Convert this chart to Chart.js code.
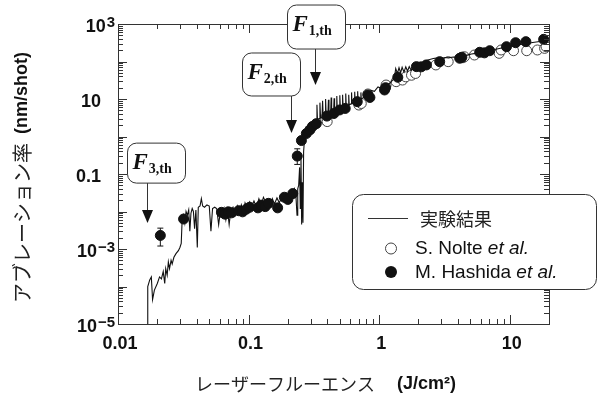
<!DOCTYPE html>
<html>
<head>
<meta charset="utf-8">
<title>アブレーション率</title>
<script src="https://cdn.jsdelivr.net/npm/chart.js"></script>
<style>
  body { margin: 0; background: #fff; }
</style>
</head>
<body>
<canvas id="ablationChart" width="598" height="403"></canvas>
<script>
// tick labels
var xTickValues = [0.01, 0.1, 1, 10];
var xTickLabels = ['0.01', '0.1', '1', '10'];
var yTickValues = [1e3, 10, 0.1, 1e-3, 1e-5];
var yTickBase = ['10', '10', '0.1', '10', '10'];
var yTickExp = ['3', '', '', '\u22123', '\u22125'];

// 実験結果 (measured curve)
var expFluence = [0.0169, 0.0169, 0.0175, 0.0180, 0.0184, 0.0190, 0.0200, 0.0208, 0.0215, 0.0222,
  0.0228, 0.0232, 0.0238, 0.0243, 0.0248, 0.0255, 0.0260, 0.0268, 0.0278, 0.0290,
  0.0298, 0.0305, 0.0310, 0.0318, 0.0325, 0.0332, 0.0340, 0.0348, 0.0355, 0.0362,
  0.0370, 0.0378, 0.0386, 0.0395, 0.0405, 0.0412, 0.0425, 0.0435, 0.0445, 0.0460,
  0.0480, 0.0500, 0.0515, 0.0530, 0.0550, 0.0570, 0.0590, 0.0610, 0.0630, 0.0650,
  0.0670, 0.0690, 0.0710, 0.0730, 0.0760, 0.0790, 0.0820, 0.0850, 0.0880, 0.0910,
  0.0940, 0.0980, 0.1020, 0.1060, 0.1100, 0.1150, 0.1200, 0.1250, 0.1300, 0.1350,
  0.1400, 0.1460, 0.1520, 0.1580, 0.1650, 0.1720, 0.1800, 0.1880, 0.1950, 0.2020,
  0.2100, 0.2180, 0.2250, 0.2300, 0.2350, 0.2380, 0.2420, 0.2460, 0.2490, 0.2520,
  0.2550, 0.2580, 0.2610, 0.2640, 0.2680, 0.2730, 0.2800, 0.2870, 0.2950, 0.3050,
  0.3150, 0.3300, 0.3340, 0.3370, 0.3480, 0.3520, 0.3560, 0.3650, 0.3690, 0.3730,
  0.3850, 0.3890, 0.3930, 0.4050, 0.4090, 0.4130, 0.4250, 0.4290, 0.4330, 0.4480,
  0.4520, 0.4560, 0.4700, 0.4740, 0.4780, 0.4950, 0.5000, 0.5050, 0.5200, 0.5250,
  0.5300, 0.5500, 0.5550, 0.5600, 0.5800, 0.5850, 0.5900, 0.6100, 0.6150, 0.6200,
  0.6450, 0.6500, 0.6550, 0.6800, 0.6850, 0.6900, 0.7200, 0.7250, 0.7300, 0.7600,
  0.7800, 0.8200, 0.8700, 0.9200, 0.9800, 1.050, 1.120, 1.200, 1.280, 1.310,
  1.340, 1.380, 1.420, 1.460, 1.500, 1.550, 1.600, 1.650, 1.700, 1.760,
  1.820, 1.880, 1.950, 2.050, 2.200, 2.400, 2.600, 2.800, 3.000, 3.200,
  3.400, 3.700, 4.000, 4.100, 4.200, 4.500, 4.800, 5.100, 5.500, 6.000,
  6.500, 7.000, 7.500, 8.000, 9.000, 10.00, 11.00, 12.00, 13.50, 15.00,
  17.00, 19.00];
var expRate = [1.0e-5, 1.0e-4, 1.5e-4, 1.8e-4, 4.5e-5, 8.0e-5, 1.2e-4, 1.8e-4, 1.6e-4, 2.5e-4,
  1.2e-4, 3.0e-4, 2.0e-4, 4.5e-4, 3.0e-4, 5.0e-4, 4.0e-4, 6.0e-4, 7.5e-4, 9.0e-4,
  1.1e-3, 1.4e-3, 6.0e-3, 8.0e-3, 5.0e-3, 0.010, 0.008, 0.011, 0.003, 0.009,
  0.012, 0.010, 0.0035, 0.011, 0.0011, 0.013, 0.014, 0.022, 0.014, 0.013,
  0.015, 0.014, 0.0030, 0.012, 0.013, 0.012, 0.0045, 0.011, 0.008, 0.012,
  0.006, 0.011, 0.0045, 0.010, 0.013, 0.008, 0.014, 0.010, 0.015, 0.009,
  0.017, 0.012, 0.018, 0.014, 0.019, 0.013, 0.022, 0.015, 0.024, 0.018,
  0.020, 0.014, 0.022, 0.016, 0.023, 0.017, 0.025, 0.020, 0.030, 0.022,
  0.035, 0.025, 0.040, 0.030, 0.008, 0.040, 0.050, 0.15, 0.012, 0.30,
  0.0045, 0.06, 0.0050, 0.40, 0.80, 1.10, 1.40, 1.60, 1.90, 2.30,
  2.6, 2.8, 7.0, 2.9, 3.0, 8.0, 3.1, 3.2, 9.0, 3.3,
  3.5, 10.0, 3.6, 3.8, 9.5, 3.9, 4.1, 11.0, 4.2, 4.5,
  10.5, 4.6, 4.8, 12.0, 5.0, 5.3, 12.5, 5.4, 5.7, 13.0,
  5.9, 6.2, 14.0, 6.4, 6.8, 13.0, 7.0, 7.4, 15.0, 7.6,
  8.0, 15.5, 8.3, 8.8, 16.0, 9.0, 9.8, 15.0, 10.0, 11.0,
  14.0, 13.0, 17.0, 16.0, 21.0, 19.0, 24.0, 26.0, 33.0, 38.0,
  65.0, 48.0, 68.0, 50.0, 70.0, 52.0, 72.0, 55.0, 73.0, 58.0,
  75.0, 62.0, 76.0, 80.0, 100.0, 112.0, 120.0, 125.0, 122.0, 128.0,
  125.0, 132.0, 130.0, 160.0, 132.0, 140.0, 150.0, 158.0, 165.0, 178.0,
  185.0, 195.0, 205.0, 215.0, 235.0, 255.0, 270.0, 285.0, 300.0, 320.0,
  340.0, 360.0];

// S. Nolte et al. (open circles)
var nolteFluence = [0.39, 0.40, 0.70, 0.73, 0.82, 1.13, 1.35, 1.51, 1.60, 1.77, 1.90, 2.72, 3.38, 4.38, 4.50, 5.37, 8.3, 8.6, 10.7, 13.5, 16.3, 18.5, 19.0];
var nolteRate = [2.75, 2.5, 6.9, 7.6, 13.6, 23.6, 29, 32, 39, 43, 48, 81, 99, 126, 134, 149, 165, 203, 194, 194, 203, 224, 248];

// M. Hashida et al. (filled circles)
var hashidaFluence = [0.0211, 0.0318, 0.062, 0.066, 0.070, 0.074, 0.084, 0.090, 0.096, 0.102,
  0.118, 0.125, 0.134, 0.142, 0.167, 0.188, 0.200, 0.218, 0.236, 0.254,
  0.277, 0.295, 0.308, 0.33, 0.398, 0.45, 0.498, 0.55, 0.68, 0.82,
  0.85, 1.10, 1.12, 1.39, 1.93, 2.10, 2.30, 2.91, 4.14, 4.30,
  5.89, 6.40, 7.03, 9.45, 11.1, 13.3, 18.2];
var hashidaRate = [0.0023, 0.0063, 0.0095, 0.0085, 0.0098, 0.0092, 0.0105, 0.0098, 0.0115, 0.013,
  0.0125, 0.0148, 0.0135, 0.0165, 0.0125, 0.024, 0.021, 0.030, 0.30, 0.78,
  1.2, 1.5, 1.85, 2.2, 3.5, 4.1, 5.1, 5.6, 8.5, 12.8,
  11, 17.4, 20, 38, 73, 72, 81, 99, 122, 130,
  176, 170, 194, 248, 317, 338, 390];

// error bars on Hashida points
var errFluence = [0.0211, 0.236];
var errLow = [0.0012, 0.18];
var errHigh = [0.0036, 0.47];

// threshold annotations
var thNames = ['1,th', '2,th', '3,th'];
var thFluence = [0.32, 0.213, 0.0168];
var thRate = [23.6, 1.24, 0.0049];

function pairs(xs, ys) {
  return xs.map(function(x, i) { return { x: x, y: ys[i] }; });
}

var SANS = '"Liberation Sans", Arial, sans-serif';
var JP = '"Noto Sans CJK JP", sans-serif';
var SERIF = '"Liberation Serif", "Times New Roman", serif';

function roundRect(ctx, x, y, w, h, r) {
  ctx.beginPath();
  ctx.moveTo(x + r, y);
  ctx.lineTo(x + w - r, y);
  ctx.arcTo(x + w, y, x + w, y + r, r);
  ctx.lineTo(x + w, y + h - r);
  ctx.arcTo(x + w, y + h, x + w - r, y + h, r);
  ctx.lineTo(x + r, y + h);
  ctx.arcTo(x, y + h, x, y + h - r, r);
  ctx.lineTo(x, y + r);
  ctx.arcTo(x, y, x + r, y, r);
  ctx.closePath();
}

var decorations = {
  id: 'decorations',
  beforeDraw: function(chart) {
    var ctx = chart.ctx;
    ctx.save();
    ctx.fillStyle = '#fff';
    ctx.fillRect(0, 0, chart.width, chart.height);
    ctx.restore();
  },
  afterDatasetsDraw: function(chart) {
    var ctx = chart.ctx;
    var xs = chart.scales.x, ys = chart.scales.y;
    ctx.save();
    ctx.strokeStyle = '#111';
    ctx.lineWidth = 1;
    for (var i = 0; i < errFluence.length; i++) {
      var px = xs.getPixelForValue(errFluence[i]);
      var lo = ys.getPixelForValue(errLow[i]);
      var hi = ys.getPixelForValue(errHigh[i]);
      ctx.beginPath();
      ctx.moveTo(px, lo); ctx.lineTo(px, hi);
      ctx.moveTo(px - 3, lo); ctx.lineTo(px + 3, lo);
      ctx.moveTo(px - 3, hi); ctx.lineTo(px + 3, hi);
      ctx.stroke();
    }
    ctx.restore();
  },
  afterDraw: function(chart) {
    var ctx = chart.ctx;
    var a = chart.chartArea;
    var xs = chart.scales.x, ys = chart.scales.y;
    ctx.save();

    // frame
    ctx.strokeStyle = '#333';
    ctx.lineWidth = 1;
    ctx.strokeRect(Math.round(a.left) + 0.5, Math.round(a.top) + 0.5,
      Math.round(a.right - a.left), Math.round(a.bottom - a.top));

    // inward ticks
    ctx.beginPath();
    var e, m, v, p, len;
    for (e = -2; e <= 1; e++) {
      for (m = 1; m <= 9; m++) {
        v = m * Math.pow(10, e);
        if (v > xs.max) break;
        p = Math.round(xs.getPixelForValue(v)) + 0.5;
        len = m === 1 ? 9 : 5;
        ctx.moveTo(p, a.bottom); ctx.lineTo(p, a.bottom - len);
        ctx.moveTo(p, a.top); ctx.lineTo(p, a.top + len);
      }
    }
    for (e = -5; e <= 3; e++) {
      for (m = 1; m <= 9; m++) {
        v = m * Math.pow(10, e);
        if (v > ys.max * 1.0001) break;
        p = Math.round(ys.getPixelForValue(v)) + 0.5;
        len = m === 1 ? 9 : 5;
        ctx.moveTo(a.left, p); ctx.lineTo(a.left + len, p);
        ctx.moveTo(a.right, p); ctx.lineTo(a.right - len, p);
      }
    }
    ctx.stroke();

    // tick labels
    ctx.fillStyle = '#111';
    ctx.font = 'bold 18px ' + SANS;
    ctx.textAlign = 'center';
    ctx.textBaseline = 'middle';
    xTickValues.forEach(function(val, i) {
      ctx.fillText(xTickLabels[i], xs.getPixelForValue(val) + 2, a.bottom + 20);
    });
    ctx.textBaseline = 'alphabetic';
    ctx.textAlign = 'left';
    yTickValues.forEach(function(val, i) {
      var py = ys.getPixelForValue(val);
      ctx.font = 'bold 18px ' + SANS;
      var bw = ctx.measureText(yTickBase[i]).width;
      var exp = yTickExp[i];
      if (exp) {
        ctx.font = 'bold 15px ' + SANS;
        var ew = ctx.measureText(exp).width;
        var x0 = 115 - ew - bw - 1;
        ctx.font = 'bold 18px ' + SANS;
        ctx.fillText(yTickBase[i], x0, py + 8);
        ctx.font = 'bold 15px ' + SANS;
        ctx.fillText(exp, x0 + bw + 1, py + 3);
      } else {
        ctx.fillText(yTickBase[i], 101 - bw, py + 8);
      }
    });

    // x title
    ctx.fillStyle = '#222';
    ctx.font = '18px ' + JP;
    ctx.textBaseline = 'middle';
    ctx.fillText('レーザーフルーエンス', 195, 384);
    ctx.fillStyle = '#111';
    ctx.font = 'bold 18px ' + SANS;
    ctx.fillText('(J/cm\u00B2)', 397, 384);

    // y title
    ctx.save();
    ctx.translate(22, 303);
    ctx.rotate(-Math.PI / 2);
    ctx.textAlign = 'left';
    ctx.fillStyle = '#222';
    ctx.font = '20px ' + JP;
    ctx.fillText('アブレーション率', 0, 0);
    var jw = ctx.measureText('アブレーション率').width;
    ctx.fillStyle = '#111';
    ctx.font = 'bold 18px ' + SANS;
    ctx.fillText('(nm/shot)', jw + 9, 0);
    ctx.restore();

    // threshold annotations
    var boxShift = [28, 49, 20];
    var arrowLen = [36, 37, 40];
    var boxH = [44, 43, 40];
    thNames.forEach(function(name, i) {
      var tx = Math.round(xs.getPixelForValue(thFluence[i])) + 0.5;
      var ty = ys.getPixelForValue(thRate[i]);
      var bx = tx - boxShift[i], bb = ty - arrowLen[i], bt = bb - boxH[i];
      roundRect(ctx, bx, bt, 58, boxH[i], 9);
      ctx.fillStyle = '#fff';
      ctx.fill();
      ctx.strokeStyle = '#333';
      ctx.lineWidth = 1;
      ctx.stroke();
      ctx.fillStyle = '#111';
      ctx.textAlign = 'left';
      ctx.textBaseline = 'alphabetic';
      ctx.font = 'italic bold 23px ' + SERIF;
      ctx.fillText('F', bx + 5, bt + 26);
      var fw = ctx.measureText('F').width;
      ctx.font = 'bold 14px ' + SERIF;
      ctx.fillText(name, bx + 6 + fw, bt + 30);
      // arrow
      ctx.beginPath();
      ctx.moveTo(tx, bb);
      ctx.lineTo(tx, ty - 12);
      ctx.stroke();
      ctx.beginPath();
      ctx.moveTo(tx - 5.5, ty - 13);
      ctx.lineTo(tx + 5.5, ty - 13);
      ctx.lineTo(tx, ty);
      ctx.closePath();
      ctx.fill();
    });

    // legend
    roundRect(ctx, 352.5, 194.5, 244, 95, 11);
    ctx.fillStyle = '#fff';
    ctx.fill();
    ctx.strokeStyle = '#333';
    ctx.stroke();
    ctx.beginPath();
    ctx.moveTo(368, 218.5); ctx.lineTo(408, 218.5);
    ctx.stroke();
    ctx.fillStyle = '#222';
    ctx.textBaseline = 'middle';
    ctx.font = '18px ' + JP;
    ctx.fillText('実験結果', 420, 219);
    ctx.fillStyle = '#111';
    ctx.beginPath();
    ctx.arc(391, 248.5, 5.5, 0, Math.PI * 2);
    ctx.strokeStyle = '#444';
    ctx.stroke();
    ctx.beginPath();
    ctx.arc(391, 272, 6, 0, Math.PI * 2);
    ctx.fill();
    var legendText = [['S. Nolte ', 248.5], ['M. Hashida ', 272.5]];
    legendText.forEach(function(t) {
      ctx.font = '19px ' + SANS;
      ctx.fillText(t[0], 415, t[1]);
      var w = ctx.measureText(t[0]).width;
      ctx.font = 'italic 19px ' + SANS;
      ctx.fillText('et al.', 415 + w, t[1]);
    });

    ctx.restore();
  }
};

new Chart(document.getElementById('ablationChart').getContext('2d'), {
  type: 'scatter',
  data: {
    datasets: [{
      label: 'M. Hashida et al.',
      data: pairs(hashidaFluence, hashidaRate),
      pointRadius: 5,
      pointBackgroundColor: '#111',
      pointBorderColor: '#111',
      pointBorderWidth: 1,
      order: 1
    }, {
      label: '実験結果',
      data: pairs(expFluence, expRate),
      showLine: true,
      borderColor: '#111',
      borderWidth: 1.1,
      pointRadius: 0,
      tension: 0,
      order: 2
    }, {
      label: 'S. Nolte et al.',
      data: pairs(nolteFluence, nolteRate),
      pointRadius: 5,
      pointBackgroundColor: '#fff',
      pointBorderColor: '#444',
      pointBorderWidth: 1,
      order: 3
    }]
  },
  options: {
    responsive: false,
    animation: false,
    layout: { padding: { left: 118, top: 24, right: 49, bottom: 79 } },
    plugins: { legend: { display: false }, tooltip: { enabled: false } },
    scales: {
      x: { type: 'logarithmic', min: 0.01, max: 20, display: false },
      y: { type: 'logarithmic', min: 1e-5, max: 1e3, display: false }
    }
  },
  plugins: [decorations]
});
</script>
</body>
</html>
